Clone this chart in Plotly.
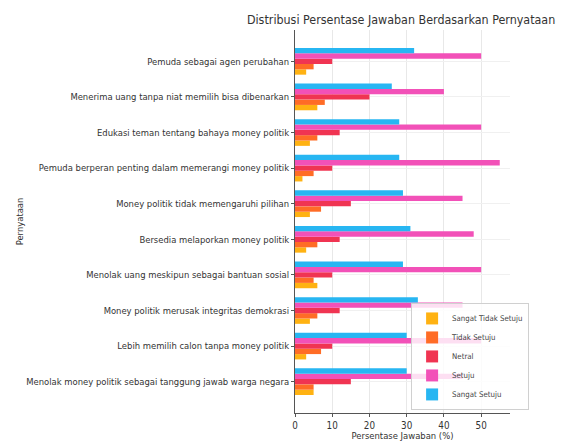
import plotly.graph_objects as go

statements = [
    "Pemuda sebagai agen perubahan",
    "Menerima uang tanpa niat memilih bisa dibenarkan",
    "Edukasi teman tentang bahaya money politik",
    "Pemuda berperan penting dalam memerangi money politik",
    "Money politik tidak memengaruhi pilihan",
    "Bersedia melaporkan money politik",
    "Menolak uang meskipun sebagai bantuan sosial",
    "Money politik merusak integritas demokrasi",
    "Lebih memilih calon tanpa money politik",
    "Menolak money politik sebagai tanggung jawab warga negara",
]

sangat_tidak_setuju = [3, 6, 4, 2, 4, 3, 6, 4, 3, 5]
tidak_setuju = [5, 8, 6, 5, 7, 6, 5, 6, 7, 5]
netral = [10, 20, 12, 10, 15, 12, 10, 12, 10, 15]
setuju = [50, 40, 50, 55, 45, 48, 50, 45, 50, 45]
sangat_setuju = [32, 26, 28, 28, 29, 31, 29, 33, 30, 30]

series_names = ["Sangat Tidak Setuju", "Tidak Setuju", "Netral", "Setuju", "Sangat Setuju"]
series_values = [sangat_tidak_setuju, tidak_setuju, netral, setuju, sangat_setuju]
colors = ["#FFB212", "#FF6C26", "#F03452", "#F251B8", "#27B6F2"]

FONT = "DejaVu Sans Condensed, DejaVu Sans, sans-serif"

fig = go.Figure()
for name, vals, col in zip(series_names, series_values, colors):
    fig.add_trace(go.Bar(
        y=statements, x=vals, name=name, orientation="h",
        marker=dict(color=col, line=dict(width=0)),
    ))

fig.update_layout(
    width=561, height=441,
    barmode="group", bargap=0.25, bargroupgap=0,
    paper_bgcolor="white", plot_bgcolor="white",
    margin=dict(l=295, r=51, t=30, b=28),
    font=dict(family=FONT, size=9.4, color="#333333"),
    title=dict(text="Distribusi Persentase Jawaban Berdasarkan Pernyataan",
               x=0.715, xanchor="center", y=0.955, yanchor="middle",
               font=dict(size=12.4, color="#333333")),
    showlegend=True,
    legend=dict(x=0.54, xanchor="left", y=0.008, yanchor="bottom",
                bgcolor="rgba(255,255,255,0.82)", bordercolor="#d0d0d0", borderwidth=1,
                font=dict(size=7.8, color="#444444"), traceorder="normal",
                itemwidth=30, tracegroupgap=0),
)

fig.update_xaxes(
    range=[0, 57.75], dtick=10, showgrid=True, gridcolor="#e8e8e8", gridwidth=1,
    zeroline=False, showline=True, linecolor="#555555", linewidth=1,
    ticks="outside", ticklen=3, tickcolor="#555555",
    tickfont=dict(size=9.8, color="#333333"),
    title=dict(text="Persentase Jawaban (%)", font=dict(size=9.4, color="#333333"), standoff=3),
    automargin=False,
)
fig.update_yaxes(
    categoryorder="array", categoryarray=statements[::-1],
    range=[-0.88, 9.88], showgrid=True, gridcolor="#f0f0f0", gridwidth=1,
    zeroline=False, showline=True, linecolor="#555555", linewidth=1,
    ticks="outside", ticklen=3, tickcolor="#555555",
    tickfont=dict(size=9.4, color="#333333"),
    title=dict(text="Pernyataan", font=dict(size=9.4, color="#333333"), standoff=0),
    automargin=False,
)

fig.write_html("out.html", config={"displayModeBar": False},
               post_script="document.body.style.margin='0';document.body.style.overflow='hidden';")
